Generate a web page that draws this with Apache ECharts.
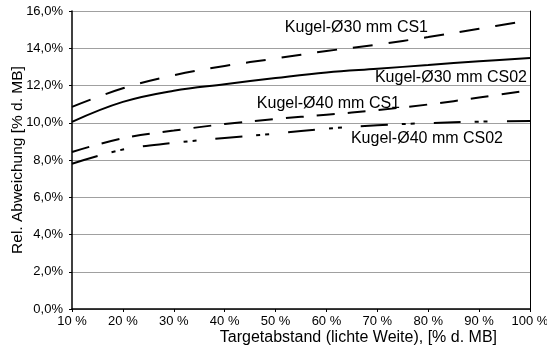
<!DOCTYPE html>
<html>
<head>
<meta charset="utf-8">
<script src="https://cdn.jsdelivr.net/npm/echarts@6/dist/echarts.min.js"></script>
<style>
  html, body { margin: 0; padding: 0; background: #fff; }
  #chart { width: 547px; height: 349px; }
</style>
</head>
<body>
<div id="chart"></div>
<script>
// Targetabstand in % d. MB
const abstand = [10, 20, 30, 40, 50, 60, 70, 80, 90, 100];
// rel. Abweichung in %
const kugel30CS1 = [10.85, 11.85, 12.55, 13.05, 13.45, 13.85, 14.2, 14.6, 15.05, 15.5];
const kugel30CS02 = [10.05, 11.12, 11.72, 12.07, 12.4, 12.7, 12.9, 13.1, 13.3, 13.47];
const kugel40CS1 = [8.43, 9.17, 9.58, 9.93, 10.2, 10.43, 10.68, 10.98, 11.35, 11.75];
const kugel40CS02 = [7.8, 8.56, 8.92, 9.18, 9.42, 9.68, 9.87, 9.98, 10.06, 10.1];
const labels = ['Kugel-Ø30 mm CS1', 'Kugel-Ø30 mm CS02', 'Kugel-Ø40 mm CS1', 'Kugel-Ø40 mm CS02'];

const FONT = '"Liberation Sans", Arial, sans-serif';

const pairs = (ys) => abstand.map((x, i) => [x, ys[i]]);
const lineSeries = (name, ys, dash) => ({
  name: name,
  type: 'line',
  data: pairs(ys),
  smooth: 0.4,
  symbol: 'none',
  lineStyle: { color: '#000', width: 2, type: dash }
});

const myChart = echarts.init(document.getElementById('chart'));
const option = {
  animation: false,
  grid: { left: 72, right: 17, top: 11, bottom: 40, outerBoundsMode: 'none' },
  xAxis: {
    type: 'value',
    min: 10,
    max: 100,
    interval: 10,
    axisLine: { lineStyle: { color: '#000', width: 1.5 } },
    axisTick: { show: true, length: 3, lineStyle: { color: '#000' } },
    splitLine: { show: false },
    axisLabel: {
      color: '#000',
      fontFamily: FONT,
      fontSize: 13,
      margin: 6,
      formatter: '{value} %'
    }
  },
  yAxis: [
    {
      type: 'value',
      min: 0,
      max: 16,
      interval: 2,
      name: 'Rel. Abweichung [% d. MB]',
      nameLocation: 'middle',
      nameGap: 46,
      nameMoveOverlap: false,
      nameTextStyle: { color: '#000', fontFamily: FONT, fontSize: 15.5 },
      axisLine: { show: true, lineStyle: { color: '#000', width: 1.5 } },
      axisTick: { show: true, length: 3, lineStyle: { color: '#000' } },
      splitLine: { show: true, lineStyle: { color: '#a0a0a0', width: 1 } },
      axisLabel: {
        color: '#000',
        fontFamily: FONT,
        fontSize: 13,
        margin: 9,
        formatter: (v) => v.toFixed(1).replace('.', ',') + '%'
      }
    },
    {
      type: 'value',
      position: 'right',
      min: 0,
      max: 16,
      interval: 2,
      axisLine: { show: true, lineStyle: { color: '#000', width: 1 } },
      axisTick: { show: false },
      axisLabel: { show: false },
      splitLine: { show: false }
    }
  ],
  series: [
    lineSeries(labels[0], kugel30CS1, [20, 16]),
    lineSeries(labels[1], kugel30CS02, 'solid'),
    lineSeries(labels[2], kugel40CS1, [18, 13]),
    lineSeries(labels[3], kugel40CS02, [27, 14, 4, 5, 4, 19])
  ],
  graphic: [
    { type: 'text', right: 119, top: 20, style: { text: labels[0], font: '16px ' + FONT, fill: '#000' } },
    { type: 'text', right: 20, top: 70, style: { text: labels[1], font: '16px ' + FONT, fill: '#000' } },
    { type: 'text', right: 147, top: 96, style: { text: labels[2], font: '16px ' + FONT, fill: '#000' } },
    { type: 'text', right: 44, top: 131, style: { text: labels[3], font: '16px ' + FONT, fill: '#000' } },
    { type: 'text', right: 50, top: 330, style: { text: 'Targetabstand (lichte Weite), [% d. MB]', font: '16px ' + FONT, fill: '#000' } }
  ]
};
myChart.setOption(option);
window.addEventListener('resize', function () {
  myChart.resize();
});
</script>
</body>
</html>
